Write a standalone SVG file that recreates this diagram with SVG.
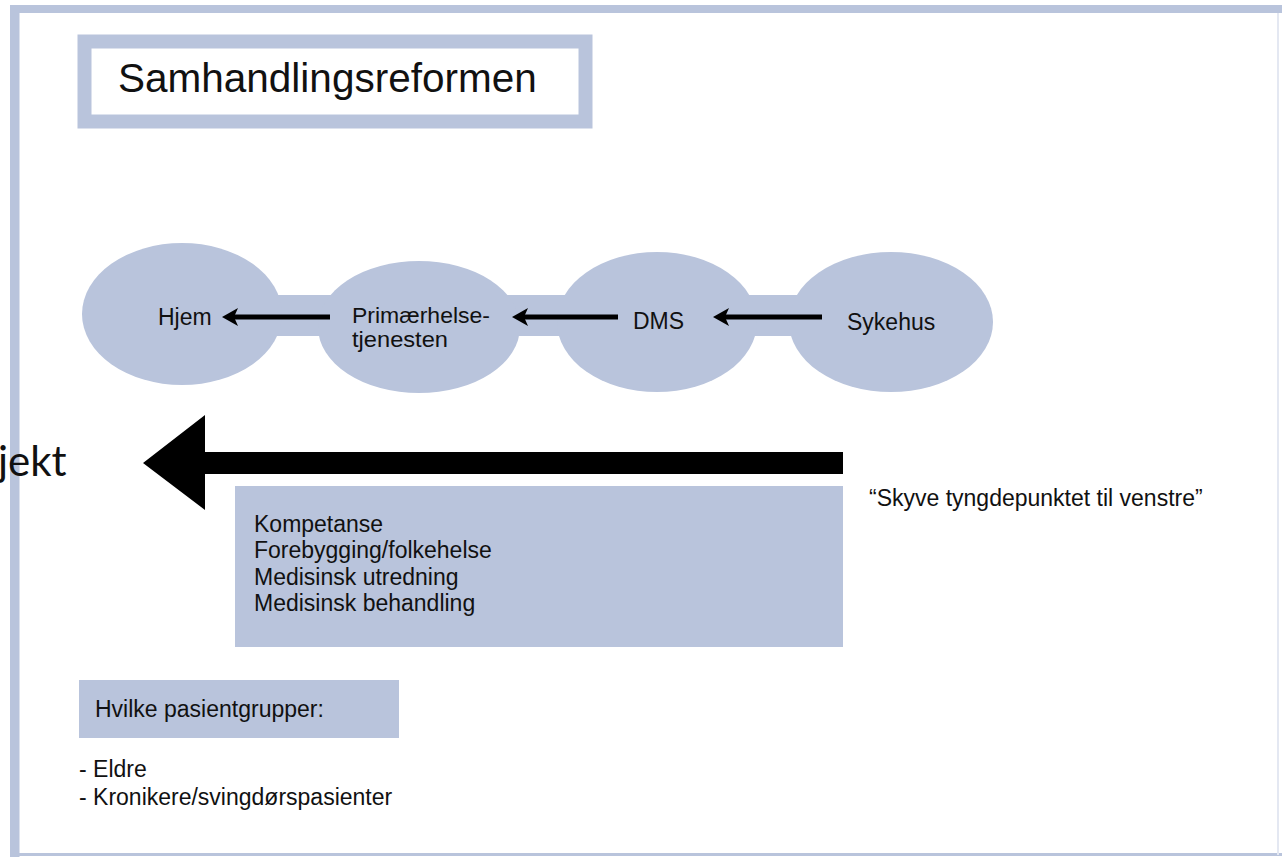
<svg xmlns="http://www.w3.org/2000/svg" width="1282" height="857" viewBox="0 0 1282 857">
  <style>
    .fill { fill: #b9c4dc; }
    .txt { font-family: "Liberation Sans", Arial, sans-serif; fill: #111; }
    .lbl { font-size: 23px; }
    .conn { stroke: #000; stroke-width: 5; fill: none; }
  </style>
  <defs>
    <marker id="head" markerUnits="userSpaceOnUse" viewBox="0 0 16 18" markerWidth="16" markerHeight="18" refX="6" refY="9" orient="auto">
      <path d="M16,9 L0,0 L4,9 L0,18 Z" fill="#000"/>
    </marker>
  </defs>

  <rect x="0" y="0" width="1282" height="857" fill="#fff"/>

  <g id="frame">
    <rect class="fill" x="10" y="5" width="1272" height="8"/>
    <rect class="fill" x="10" y="5" width="9.5" height="852"/>
    <rect class="fill" x="10" y="853" width="1272" height="3"/>
    <rect x="1277" y="13" width="2" height="842" fill="#e4e8f2"/>
  </g>

  <g id="title">
    <rect x="84.5" y="41.5" width="501" height="80" fill="#fff" stroke="#b9c4dc" stroke-width="14"/>
    <text class="txt" x="118" y="92" font-size="40.5" fill="#000">Samhandlingsreformen</text>
  </g>

  <g id="band">
    <rect class="fill" x="250" y="295" width="580" height="41"/>
  </g>

  <g id="hjem">
    <ellipse class="fill" cx="182" cy="314" rx="100" ry="71"/>
    <text class="txt lbl" x="158" y="325">Hjem</text>
  </g>
  <g id="primaer">
    <ellipse class="fill" cx="419" cy="327" rx="101" ry="66"/>
    <text class="txt" font-size="21.5" x="352" y="323" textLength="138" lengthAdjust="spacingAndGlyphs">Primærhelse-</text>
    <text class="txt" font-size="21.5" x="352" y="347" textLength="96" lengthAdjust="spacingAndGlyphs">tjenesten</text>
  </g>
  <g id="dms">
    <ellipse class="fill" cx="657" cy="322" rx="100" ry="70"/>
    <text class="txt lbl" x="633" y="329">DMS</text>
  </g>
  <g id="sykehus">
    <ellipse class="fill" cx="891" cy="322" rx="102" ry="70"/>
    <text class="txt lbl" x="847" y="330">Sykehus</text>
  </g>

  <g id="connectors">
    <line class="conn" x1="330" y1="317" x2="232" y2="317" marker-end="url(#head)"/>
    <line class="conn" x1="618" y1="317" x2="522" y2="317" marker-end="url(#head)"/>
    <line class="conn" x1="822" y1="317" x2="723" y2="317" marker-end="url(#head)"/>
    <path id="big-arrow" d="M843,452 L205,452 L205,415 L143,463 L205,510 L205,474 L843,474 Z" fill="#000"/>
  </g>

  <g id="ghost">
    <text x="-2" y="476" font-family="Lato, 'Open Sans', sans-serif" font-size="42" fill="#111">jekt</text>
  </g>

  <g id="content-box">
    <rect class="fill" x="235" y="486" width="608" height="161"/>
    <text class="txt lbl" x="254" y="532">Kompetanse</text>
    <text class="txt lbl" x="254" y="558">Forebygging/folkehelse</text>
    <text class="txt lbl" x="254" y="585">Medisinsk utredning</text>
    <text class="txt lbl" x="254" y="611">Medisinsk behandling</text>
  </g>

  <g id="quote">
    <text class="txt lbl" x="869" y="506">“Skyve tyngdepunktet til venstre”</text>
  </g>

  <g id="groups-box">
    <rect class="fill" x="79" y="680" width="320" height="58"/>
    <text class="txt lbl" x="95" y="717">Hvilke pasientgrupper:</text>
  </g>

  <g id="groups-list">
    <text class="txt lbl" x="79" y="777">- Eldre</text>
    <text class="txt lbl" x="79" y="805">- Kronikere/svingdørspasienter</text>
  </g>
</svg>
